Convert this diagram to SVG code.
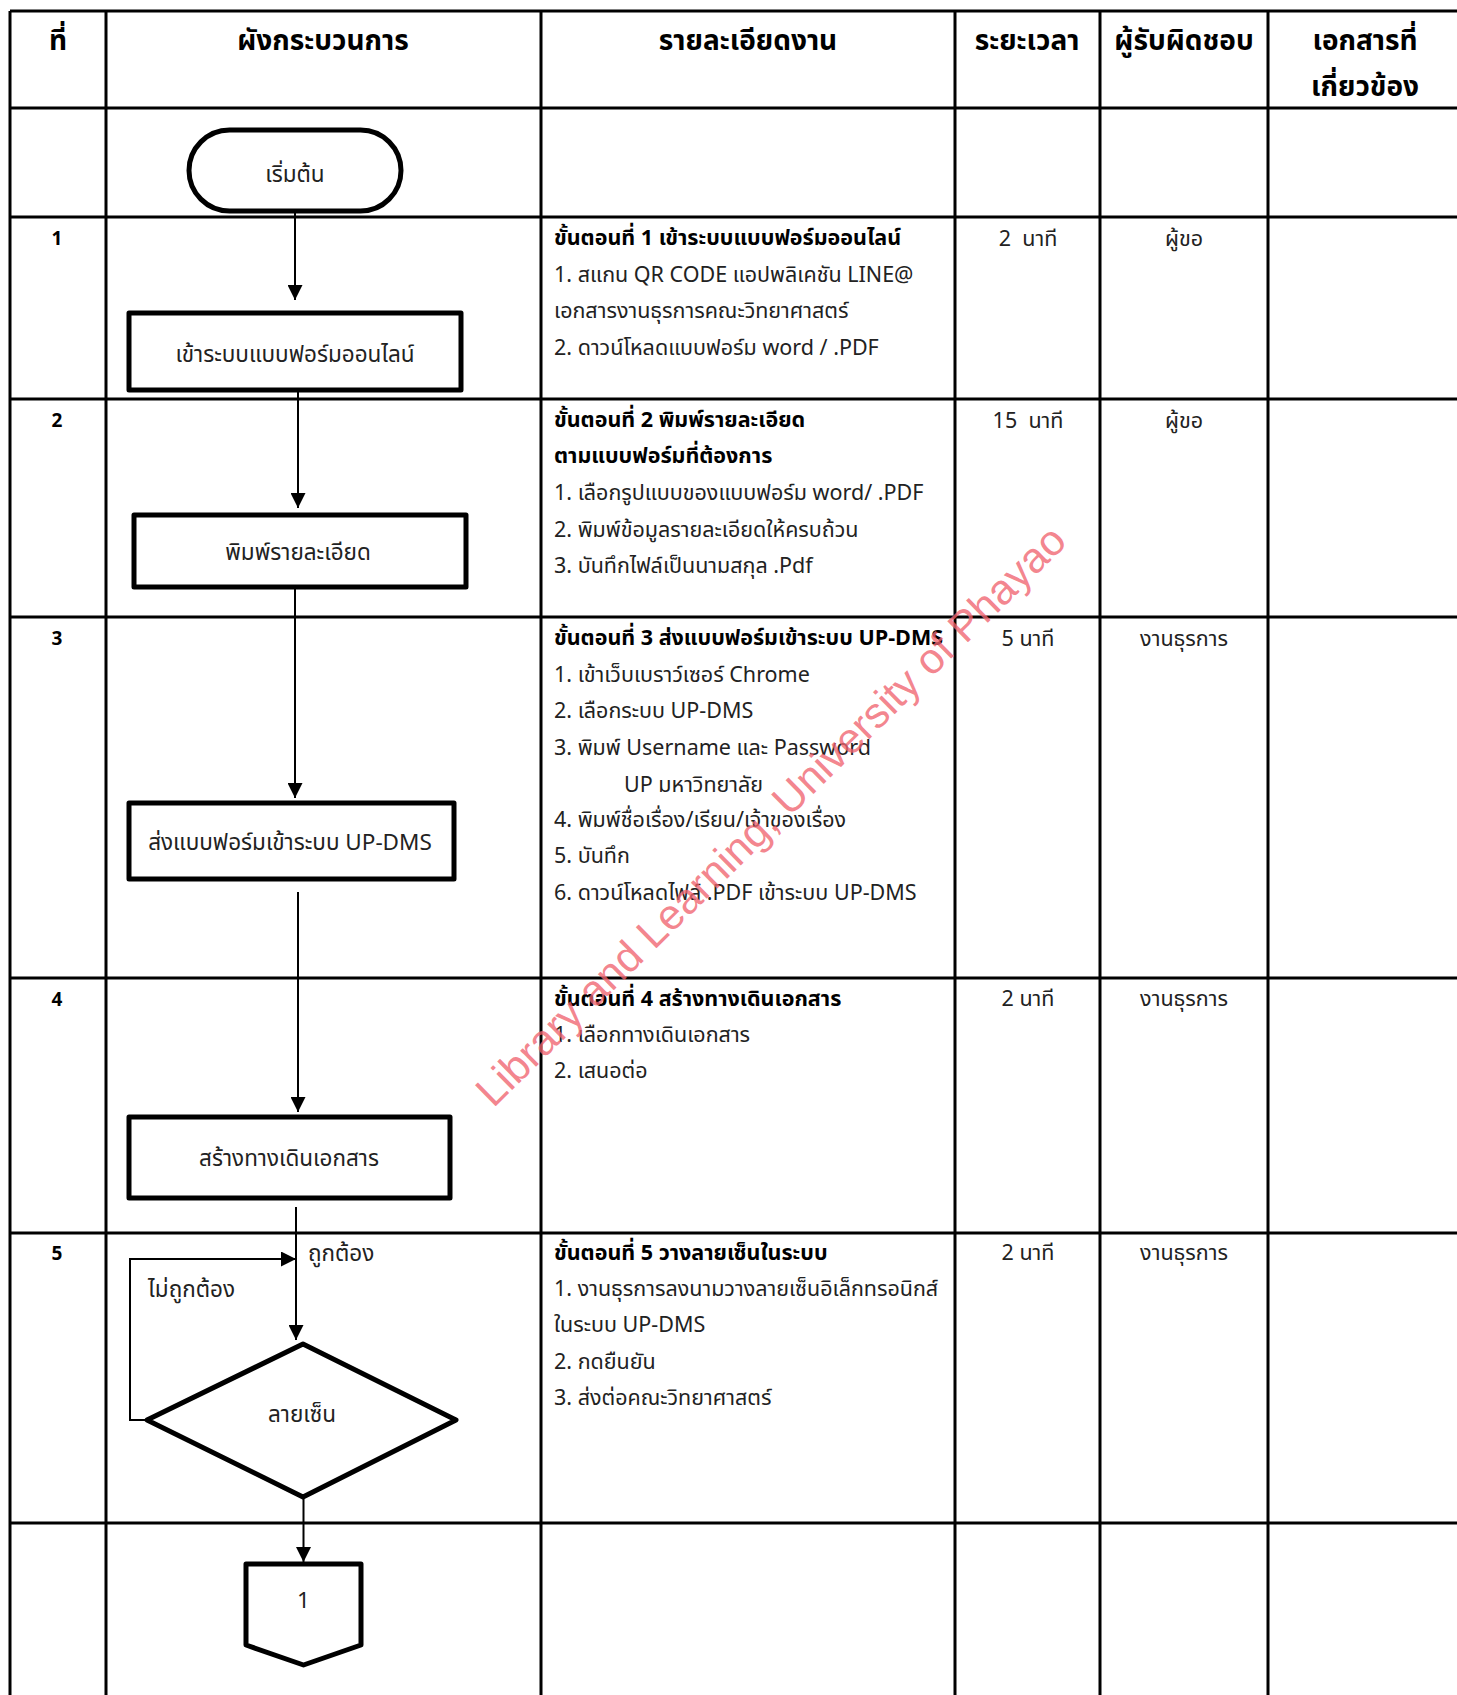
<svg xmlns="http://www.w3.org/2000/svg" width="1457" height="1695" viewBox="0 0 1457 1695">
<style>
.grid{stroke:#000;stroke-width:3;fill:none}
.hdr{font-family:"Noto Sans Thai","Noto Sans","DejaVu Sans",sans-serif;font-weight:bold;font-size:28px;fill:#000;text-anchor:middle}
.num{font-family:"Noto Sans Thai","Noto Sans","DejaVu Sans",sans-serif;font-weight:bold;font-size:19px;fill:#000;text-anchor:middle}
.body{font-family:"Noto Sans Thai","Noto Sans","DejaVu Sans",sans-serif;font-size:21.5px;fill:#222;white-space:pre}
.b{font-weight:bold;fill:#000}
.ctr{text-anchor:middle}
.shape{fill:#fff;stroke:#000;stroke-width:5;stroke-linejoin:round}
.lbl{font-family:"Noto Sans Thai","Noto Sans","DejaVu Sans",sans-serif;font-size:22.5px;fill:#222;text-anchor:middle}
.conn{stroke:#000;stroke-width:2;fill:none}
.wm{font-family:"Liberation Sans",Arial,sans-serif;font-size:42.7px;fill:#f06570;fill-opacity:0.8}
</style>
<defs>
<marker id="arr" viewBox="0 0 10 10" refX="10" refY="5" markerWidth="8" markerHeight="7.5" markerUnits="strokeWidth" orient="auto">
<path d="M0,0 L10,5 L0,10 z" fill="#000"/>
</marker>
</defs>
<rect width="1457" height="1695" fill="#fff"/>
<g id="table">
<line class="grid" x1="10" y1="11" x2="1457" y2="11"/>
<line class="grid" x1="10" y1="108" x2="1457" y2="108"/>
<line class="grid" x1="10" y1="217" x2="1457" y2="217"/>
<line class="grid" x1="10" y1="399" x2="1457" y2="399"/>
<line class="grid" x1="10" y1="617" x2="1457" y2="617"/>
<line class="grid" x1="10" y1="978" x2="1457" y2="978"/>
<line class="grid" x1="10" y1="1233" x2="1457" y2="1233"/>
<line class="grid" x1="10" y1="1523" x2="1457" y2="1523"/>
<line class="grid" x1="10" y1="11" x2="10" y2="1695"/>
<line class="grid" x1="106" y1="11" x2="106" y2="1695"/>
<line class="grid" x1="541" y1="11" x2="541" y2="1695"/>
<line class="grid" x1="955" y1="11" x2="955" y2="1695"/>
<line class="grid" x1="1100" y1="11" x2="1100" y2="1695"/>
<line class="grid" x1="1268" y1="11" x2="1268" y2="1695"/>
</g>
<g id="header">
<text class="hdr" x="58" y="50">ที่</text>
<text class="hdr" x="323" y="50">ผังกระบวนการ</text>
<text class="hdr" x="748" y="50">รายละเอียดงาน</text>
<text class="hdr" x="1027" y="50">ระยะเวลา</text>
<text class="hdr" x="1184" y="50">ผู้รับผิดชอบ</text>
<text class="hdr" x="1365" y="50">เอกสารที่</text>
<text class="hdr" x="1365" y="96">เกี่ยวข้อง</text>
</g>
<g id="numbers">
<text class="num" x="57" y="245">1</text>
<text class="num" x="57" y="427">2</text>
<text class="num" x="57" y="645">3</text>
<text class="num" x="57" y="1006">4</text>
<text class="num" x="57" y="1260">5</text>
</g>
<g id="details" class="body">
<text x="554" y="245" class="b">ขั้นตอนที่ 1 เข้าระบบแบบฟอร์มออนไลน์</text>
<text x="554" y="282">1. สแกน QR CODE แอปพลิเคชัน LINE@</text>
<text x="554" y="318">เอกสารงานธุรการคณะวิทยาศาสตร์</text>
<text x="554" y="355">2. ดาวน์โหลดแบบฟอร์ม word / .PDF</text>
<text x="554" y="427" class="b">ขั้นตอนที่ 2 พิมพ์รายละเอียด</text>
<text x="554" y="463" class="b">ตามแบบฟอร์มที่ต้องการ</text>
<text x="554" y="500">1. เลือกรูปแบบของแบบฟอร์ม word/ .PDF</text>
<text x="554" y="537">2. พิมพ์ข้อมูลรายละเอียดให้ครบถ้วน</text>
<text x="554" y="573">3. บันทึกไฟล์เป็นนามสกุล .Pdf</text>
<text x="554" y="645" class="b">ขั้นตอนที่ 3 ส่งแบบฟอร์มเข้าระบบ UP-DMS</text>
<text x="554" y="682">1. เข้าเว็บเบราว์เซอร์ Chrome</text>
<text x="554" y="718">2. เลือกระบบ UP-DMS</text>
<text x="554" y="755">3. พิมพ์ Username และ Password</text>
<text x="624" y="792">UP มหาวิทยาลัย</text>
<text x="554" y="827">4. พิมพ์ชื่อเรื่อง/เรียน/เจ้าของเรื่อง</text>
<text x="554" y="863">5. บันทึก</text>
<text x="554" y="900">6. ดาวน์โหลดไฟล์ .PDF เข้าระบบ UP-DMS</text>
<text x="554" y="1006" class="b">ขั้นตอนที่ 4 สร้างทางเดินเอกสาร</text>
<text x="554" y="1042">1. เลือกทางเดินเอกสาร</text>
<text x="554" y="1078">2. เสนอต่อ</text>
<text x="554" y="1260" class="b">ขั้นตอนที่ 5 วางลายเซ็นในระบบ</text>
<text x="554" y="1296">1. งานธุรการลงนามวางลายเซ็นอิเล็กทรอนิกส์</text>
<text x="554" y="1332">ในระบบ UP-DMS</text>
<text x="554" y="1369">2. กดยืนยัน</text>
<text x="554" y="1405">3. ส่งต่อคณะวิทยาศาสตร์</text>
</g>
<g id="times" class="body ctr">
<text x="1028" y="246">2&#160; นาที</text>
<text x="1028" y="428">15&#160; นาที</text>
<text x="1028" y="646">5 นาที</text>
<text x="1028" y="1006">2 นาที</text>
<text x="1028" y="1260">2 นาที</text>
</g>
<g id="owners" class="body ctr">
<text x="1184" y="246">ผู้ขอ</text>
<text x="1184" y="428">ผู้ขอ</text>
<text x="1184" y="646">งานธุรการ</text>
<text x="1184" y="1006">งานธุรการ</text>
<text x="1184" y="1260">งานธุรการ</text>
</g>
<g id="connectors">
<line class="conn" x1="295" y1="212" x2="295" y2="300" marker-end="url(#arr)"/>
<line class="conn" x1="298" y1="390" x2="298" y2="508" marker-end="url(#arr)"/>
<line class="conn" x1="295" y1="588" x2="295" y2="798" marker-end="url(#arr)"/>
<line class="conn" x1="298" y1="892" x2="298" y2="1112" marker-end="url(#arr)"/>
<line class="conn" x1="296" y1="1207" x2="296" y2="1340" marker-end="url(#arr)"/>
<polyline class="conn" points="148,1420 130,1420 130,1259 296,1259" marker-end="url(#arr)"/>
<line class="conn" x1="303.5" y1="1497" x2="303.5" y2="1562" marker-end="url(#arr)"/>
<text class="lbl" x="308" y="1261" style="text-anchor:start">ถูกต้อง</text>
<text class="lbl" x="148" y="1297" style="text-anchor:start">ไม่ถูกต้อง</text>
</g>
<g id="start">
<rect class="shape" x="189" y="130" width="212" height="81" rx="40.5"/>
<text class="lbl" x="295" y="182">เริ่มต้น</text>
</g>
<g id="step1">
<rect class="shape" x="129" y="313" width="332" height="77"/>
<text class="lbl" x="295" y="362">เข้าระบบแบบฟอร์มออนไลน์</text>
</g>
<g id="step2">
<rect class="shape" x="134" y="515" width="332" height="72"/>
<text class="lbl" x="298" y="560">พิมพ์รายละเอียด</text>
</g>
<g id="step3">
<rect class="shape" x="129" y="803" width="325" height="76"/>
<text class="lbl" x="290" y="850">ส่งแบบฟอร์มเข้าระบบ UP-DMS</text>
</g>
<g id="step4">
<rect class="shape" x="129" y="1117" width="321" height="81"/>
<text class="lbl" x="289" y="1166">สร้างทางเดินเอกสาร</text>
</g>
<g id="decision">
<polygon class="shape" points="303,1344 456,1420 303,1497 147,1420"/>
<text class="lbl" x="302" y="1422">ลายเซ็น</text>
</g>
<g id="offpage">
<polygon class="shape" points="246,1564 361,1564 361,1645 303.5,1665 246,1645"/>
<text class="lbl" x="303.5" y="1608">1</text>
</g>
<text class="wm" x="0" y="0" text-anchor="middle" transform="translate(781,826) rotate(-44.5)">Library and Learning, University of Phayao</text>
</svg>
